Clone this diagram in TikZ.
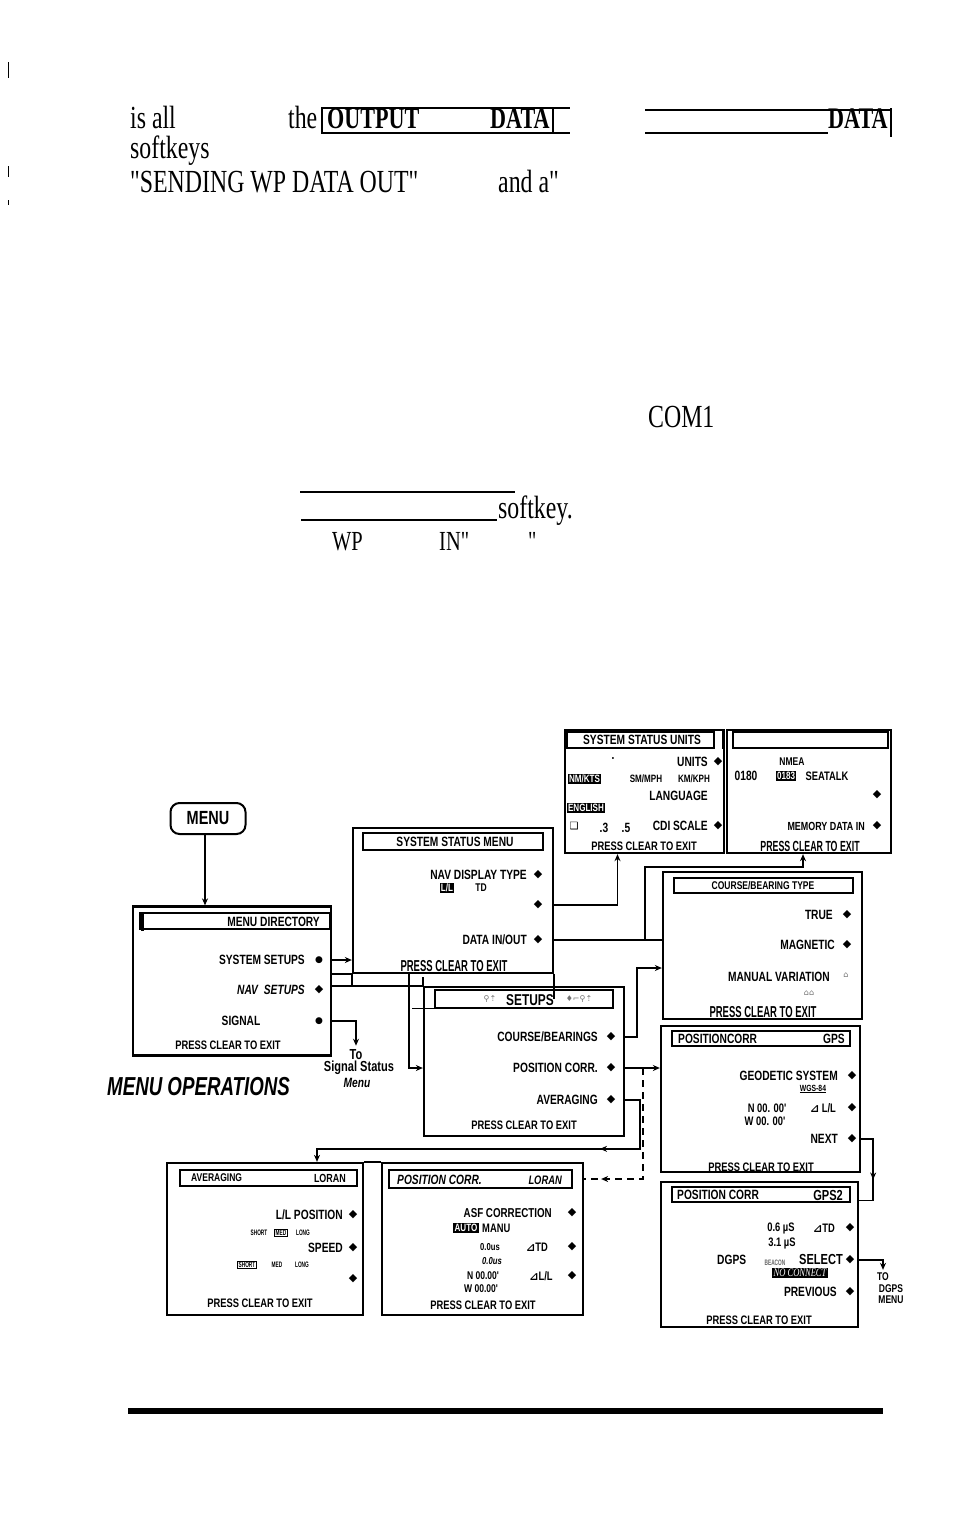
\documentclass[tikz,border=0pt]{standalone}
\usepackage{fontspec}
\setmainfont{Liberation Serif}
\newfontfamily\dfont[FakeStretch=0.76, Scale=1.12]{Liberation Sans}
\newfontfamily\dcond[FakeStretch=0.6, Scale=1.13]{Liberation Sans}
\newfontfamily\tfont[FakeStretch=0.74, Scale=1.15]{Liberation Serif}
\newfontfamily\opfont[FakeStretch=0.72]{Liberation Sans}
\newfontfamily\symf{DejaVu Sans}
\usetikzlibrary{arrows.meta,decorations.markings}
\newcommand\fs[1]{\fontsize{#1}{#1}\selectfont}
\begin{document}
\begin{tikzpicture}[x=1pt,y=-1pt,
  bx/.style n args={2}{draw, line width=2.3pt, inner sep=0pt, minimum width=#1, minimum height=#2},
  tb/.style n args={2}{draw, line width=1.2pt, inner sep=0pt, minimum width=#1, minimum height=#2},
  it/.style={inner sep=0pt, anchor=east, font=\dfont\bfseries\fs{12}},
  tx/.style={inner sep=0pt, font=\dfont\bfseries\fs{12}},
  sm/.style={inner sep=0pt, font=\dcond\bfseries\fs{7}},
  dm/.style={inner sep=0pt, font=\symf\fs{11}},
  dt/.style={inner sep=0pt, font=\symf\fs{9}},
  pr/.style={inner sep=0pt, font=\dfont\bfseries\fs{11}},
  bpr/.style={inner sep=0pt, font=\dcond\bfseries\fs{14}},
  inv/.style={fill=black, text=white, inner sep=1.2pt, font=\dfont\bfseries\fs{9.5}},
  grb/.style={inner sep=0pt, text=black!55, font=\symf\fs{8}},
  cn/.style={line width=1.7pt},
  arw/.style={-{Stealth[length=7pt,width=6pt]}},
  tp/.style={inner sep=0pt, anchor=base west, font=\tfont\fs{28}},
  tpb/.style={inner sep=0pt, anchor=base west, font=\tfont\bfseries\fs{26}},
  midarr/.style={postaction={decorate}, decoration={markings, mark=at position #1 with {\arrow{Stealth[length=7pt,width=6pt]}}}}
]
\useasboundingbox (0,0) rectangle (954,1519);
\fill[white] (0,0) rectangle (954,1519);

% ---------- page marks ----------
\draw[line width=1pt] (8,62) -- (8,78) (8,166) -- (8,177) (8,200) -- (8,205);

% ---------- text of the page ----------
\node[tp] (t1) at (130,128) {is all};
\node[tp] (t2) at (288,128) {the};
\node[tpb] (t3) at (327,128) {OUTPUT};
\node[tpb] (t4) at (490,128) {DATA};
\draw[line width=2pt] (322,108) -- (570,108) (322,133) -- (570,133)
  (322,107) -- (322,134) (553,107) -- (553,134);
\node[tpb] (t4b) at (828,128) {DATA};
\draw[line width=2pt] (645,110) -- (892,110) (645,133) -- (828,133) (891,108) -- (891,137);
\node[tp] (t5) at (130,158) {softkeys};
\node[tp] (t6) at (130,192) {"SENDING WP DATA OUT"};
\node[tp] (t7) at (498,192) {and a"};
\node[tp] (t8) at (648,427) {COM1};
\draw[line width=2pt] (300,492) -- (515,492) (301,520) -- (497,520);
\node[tp] (t9) at (498,518) {softkey.};
\node[tp, font=\tfont\fs{24}] (t10) at (332,550) {WP};
\node[tp, font=\tfont\fs{24}] (t11) at (439,550) {IN"};
\node[tp, font=\tfont\fs{24}] (t12) at (528,550) {"};

% ---------- MENU and MENU DIRECTORY ----------
\node[draw, line width=2pt, rounded corners=9pt, minimum width=75, minimum height=31,
      inner sep=0pt, font=\dfont\bfseries\fs{17}] (menu) at (208,818.5) {MENU};
\node[bx={198}{149}] (md) at (232,981) {};
\node[tb={190}{16}] (mdt) at (235,921) {};
\draw[line width=3pt] (142,912) -- (142,931);
\node[it] (mdtl) at (320,922) {MENU DIRECTORY};
\draw[cn, arw] ([xshift=-3pt]menu.south) -- ([xshift=-3pt]menu.south |- md.north);
\node[it] (mds) at (305,960) {SYSTEM SETUPS};
\node[dt] (mdsd) at (319,960) {●};
\node[it, font=\dfont\bfseries\itshape\fs{12}] (mdn) at (305,990) {NAV\;\,SETUPS};
\node[dm] (mdnd) at (319,990) {◆};
\node[tx] (mdg) at (241,1021) {SIGNAL};
\node[dt] (mdgd) at (319,1021) {●};
\node[pr] (mdp) at (228,1045) {PRESS CLEAR TO EXIT};
\node[tx, font=\dfont\bfseries\fs{13}] (sto) at (356,1055) {To};
\node[tx, font=\dfont\bfseries\fs{13}] (sst) at (359,1068) {Signal Status};
\node[tx, font=\dfont\bfseries\itshape\fs{12}] (smn) at (357,1083) {Menu};
\draw[cn, arw, shorten >=4pt] (md.east |- mdgd) -| (sto.north);
\node[inner sep=0pt, anchor=base west, font=\opfont\bfseries\itshape\fs{26}] (mop) at (107,1095) {MENU OPERATIONS};

% ---------- SYSTEM STATUS MENU ----------
\node[bx={200}{145}] (ssm) at (453,900.5) {};
\node[tb={180}{17}] (ssmt) at (453,841.5) {};
\node[tx] (ssmtl) at (455,842) {SYSTEM STATUS MENU};
\node[it] (ss1) at (527,875) {NAV DISPLAY TYPE};
\node[dm] (ss1d) at (538,875) {◆};
\node[inv] (ssll) at (447,888) {L/L};
\node[tx, font=\dfont\bfseries\fs{10}] (sstd) at (481,888) {TD};
\node[dm] (ss2d) at (538,905) {◆};
\node[it] (ss3) at (527,940) {DATA IN/OUT};
\node[dm] (ss3d) at (538,940) {◆};
\node[bpr] (ssp) at (454,966) {PRESS CLEAR TO EXIT};
\draw[cn, arw] (md.east |- mdsd) -- (ssm.west |- mdsd);

% ---------- SETUPS ----------
\node[bx={200}{149}] (set) at (524,1061.5) {};
\node[tb={178}{18}] (sett) at (524,999) {};
\draw[line width=1.2pt] (sett.south west) -- ++(-22,0);
\draw[line width=2.3pt] (set.north west) -- ++(0,-9);
\draw[line width=2.3pt] (ssm.south west) -- (md.east |- ssm.south);
\draw[line width=2.3pt] (ssm.south west) -- (ssm.west |- set.north);
\draw[line width=2.3pt] (ssm.south east) -- (ssm.east |- sett.center);
\draw[cn] (md.east |- set.north) -- (set.north west);
\node[tx, font=\dfont\bfseries\fs{14}] (settl) at (530,1000) {SETUPS};
\node[grb] (setg1) at (490,999) {⚲⇡};
\node[grb] (setg2) at (579,999) {♦⌐⚲⇡};
\node[it] (se1) at (598,1037) {COURSE/BEARINGS};
\node[dm] (se1d) at (611,1037) {◆};
\node[it] (se2) at (598,1068) {POSITION CORR.};
\node[dm] (se2d) at (611,1068) {◆};
\node[it] (se3) at (598,1100) {AVERAGING};
\node[dm] (se3d) at (611,1100) {◆};
\node[pr] (sep) at (524,1125) {PRESS CLEAR TO EXIT};
\draw[cn, arw] ([xshift=-14pt]set.west |- ssm.south) -- ([xshift=-14pt]set.west |- se2d) -- (set.west |- se2d);

% ---------- SYSTEM STATUS UNITS ----------
\node[bx={159}{123}] (uni) at (644.5,791.5) {};
\node[tb={147}{16}] (unit) at (640.5,740) {};
\draw[line width=1.2pt] ([xshift=8pt]unit.north east) -- ([xshift=8pt]unit.south east);
\node[tx] (unitl) at (642,740) {SYSTEM STATUS UNITS};
\node[tx] (undot) at (613,758) {.};
\node[it] (un1) at (708,762) {UNITS};
\node[dm] (un1d) at (718,762) {◆};
\node[inv] (unnm) at (584.5,779) {NM/KTS};
\node[tx, font=\dfont\bfseries\fs{9.5}] (unsm) at (646,779) {SM/MPH};
\node[tx, font=\dfont\bfseries\fs{9.5}] (unkm) at (694,779) {KM/KPH};
\node[it] (un2) at (708,796) {LANGUAGE};
\node[inv] (uneng) at (586,808) {ENGLISH};
\node[dt, font=\symf\fs{10}] (unbx) at (574,826) {❑};
\node[tx] (un03) at (604,828) {.3};
\node[tx] (un05) at (626,828) {.5};
\node[it] (un4) at (708,826) {CDI SCALE};
\node[dm] (un4d) at (718,826) {◆};
\node[pr] (unp) at (644,846) {PRESS CLEAR TO EXIT};

% ---------- DATA box ----------
\node[bx={164}{123}] (dat) at (809,791.5) {};
\node[tb={155}{16}] (datt) at (810.5,740) {};
\node[tx, font=\dfont\bfseries\fs{10}] (dnm) at (792,762) {NMEA};
\node[tx] (d0180) at (746,776) {0180};
\node[inv] (d0183) at (786,776) {0183};
\node[tx, font=\dfont\bfseries\fs{11}] (dsea) at (827,776) {SEATALK};
\node[dm] (dd1) at (877,795) {◆};
\node[it, font=\dfont\bfseries\fs{10.5}] (dmem) at (865,826) {MEMORY DATA IN};
\node[dm] (dmemd) at (877,826) {◆};
\node[bpr, font=\dcond\bfseries\fs{13}] (dp) at (810,846) {PRESS CLEAR TO EXIT};

% ---------- COURSE/BEARING TYPE ----------
\node[bx={199}{147}] (crs) at (762.5,945.5) {};
\node[tb={179}{15}] (crst) at (763.5,885.5) {};
\node[tx, font=\dfont\bfseries\fs{10}] (crstl) at (763,886) {COURSE/BEARING TYPE};
\node[it] (cr1) at (833,915) {TRUE};
\node[dm] (cr1d) at (847,915) {◆};
\node[it] (cr2) at (835,945) {MAGNETIC};
\node[dm] (cr2d) at (847,945) {◆};
\node[it] (cr3) at (830,977) {MANUAL VARIATION};
\node[grb] (cr3g) at (846,975) {⌂};
\node[grb] (cr4g) at (809,993) {⌂⌂};
\node[bpr] (crp) at (763,1012) {PRESS CLEAR TO EXIT};

% ---------- POSITION CORR GPS ----------
\node[bx={199}{146}] (gps) at (760.5,1099) {};
\node[tb={178}{15}] (gpst) at (761,1038.5) {};
\node[tx, anchor=west] (gpsl) at (678,1039) {POSITIONCORR};
\node[tx, anchor=east] (gpsr) at (845,1039) {GPS};
\node[it] (gp1) at (838,1076) {GEODETIC SYSTEM};
\node[dm] (gp1d) at (852,1076) {◆};
\node[tx, font=\dfont\bfseries\fs{8}] (gpw) at (813,1089) {\underline{WGS-84}};
\node[tx, font=\dfont\bfseries\fs{11}] (gpn) at (767,1108) {N 00. 00'};
\node[tx, font=\dfont\bfseries\fs{11}] (gpll) at (823,1108) {{\symf ⊿} L/L};
\node[dm] (gp2d) at (852,1108) {◆};
\node[tx, font=\dfont\bfseries\fs{11}] (gpw2) at (765,1121) {W 00. 00'};
\node[it] (gp3) at (838,1139) {NEXT};
\node[dm] (gp3d) at (852,1139) {◆};
\node[pr] (gpp) at (761,1167) {PRESS CLEAR TO EXIT};

% ---------- POSITION CORR GPS2 ----------
\node[bx={197}{145}] (gq) at (759.5,1254.5) {};
\node[tb={178}{15}] (gqt) at (761,1194.5) {};
\node[tx, anchor=west] (gql) at (677,1195) {POSITION CORR};
\node[tx, anchor=east, font=\dfont\bfseries\fs{13}] (gqr) at (843,1195) {GPS2};
\node[tx, font=\dfont\bfseries\fs{11}] (gq1) at (781,1228) {0.6 µS};
\node[tx, font=\dfont\bfseries\fs{11}] (gq1b) at (824,1228) {{\symf ⊿}TD};
\node[dm] (gq1d) at (850,1228) {◆};
\node[tx, font=\dfont\bfseries\fs{11}] (gq2) at (782,1243) {3.1 µS};
\node[tx, anchor=west] (gq3) at (717,1260) {DGPS};
\node[sm, text=black!60] (gq3g) at (775,1263) {BEACON};
\node[it, font=\dfont\bfseries\fs{13}] (gq3s) at (843,1259) {SELECT};
\node[dm] (gq3d) at (850,1260) {◆};
\node[inv, font=\tfont\itshape\fs{10}] (gqnc) at (800,1273) {NO CONNECT};
\node[it] (gq4) at (837,1292) {PREVIOUS};
\node[dm] (gq4d) at (850,1292) {◆};
\node[pr] (gqp) at (759,1320) {PRESS CLEAR TO EXIT};
\node[tx, font=\dfont\bfseries\fs{10}] (gqto) at (883,1277) {TO};
\node[tx, font=\dfont\bfseries\fs{10}] (gqdg) at (891,1289) {DGPS};
\node[tx, font=\dfont\bfseries\fs{10}] (gqmn) at (891,1300) {MENU};
\draw[cn, arw, shorten >=3pt] (gq.east |- gq3d) -| (gqto.north);

% ---------- AVERAGING LORAN ----------
\node[bx={196}{152}] (avg) at (265,1239) {};
\node[tb={177}{16}] (avgt) at (268.5,1178) {};
\node[tx, anchor=west, font=\dfont\bfseries\fs{10}] (avl) at (191,1178) {AVERAGING};
\node[tx, anchor=east, font=\dfont\bfseries\fs{10.5}] (avr) at (346,1178) {LORAN};
\node[it] (av1) at (343,1215) {L/L POSITION};
\node[dm] (av1d) at (353,1215) {◆};
\node[sm] (avs1) at (259,1233) {SHORT};
\node[sm, draw, line width=0.8pt, inner sep=1pt] (avm1) at (281,1233) {MED};
\node[sm] (avl1) at (303,1233) {LONG};
\node[it] (av2) at (343,1248) {SPEED};
\node[dm] (av2d) at (353,1248) {◆};
\node[sm, draw, line width=0.8pt, inner sep=1pt] (avs2) at (247,1265) {SHORT};
\node[sm] (avm2) at (277,1265) {MED};
\node[sm] (avl2) at (302,1265) {LONG};
\node[dm] (av3d) at (353,1279) {◆};
\node[pr] (avp) at (260,1303) {PRESS CLEAR TO EXIT};

% ---------- POSITION CORR LORAN ----------
\node[bx={201}{152}] (lor) at (482.5,1239) {};
\node[tb={183}{18}] (lort) at (480.5,1179) {};
\draw[line width=2.3pt] (avg.north east) -- (lor.north west);
\node[tx, anchor=west, font=\dfont\bfseries\itshape\fs{12}] (lol) at (397,1180) {POSITION CORR.};
\node[tx, anchor=east, font=\dfont\bfseries\itshape\fs{11}] (lor2) at (562,1180) {LORAN};
\node[it, font=\dfont\bfseries\fs{11.5}] (lo1) at (552,1213) {ASF CORRECTION};
\node[dm] (lo1d) at (572,1213) {◆};
\node[inv] (loau) at (466,1228) {AUTO};
\node[tx, anchor=west, font=\dfont\bfseries\fs{11}] (lomn) at (482,1228) {MANU};
\node[tx, font=\dfont\bfseries\fs{9}] (lo2) at (490,1247) {0.0us};
\node[tx, font=\dfont\bfseries\fs{11}] (lo2b) at (537,1247) {{\symf ⊿}TD};
\node[dm] (lo2d) at (572,1247) {◆};
\node[tx, font=\dfont\bfseries\itshape\fs{9}] (lo3) at (492,1261) {0.0us};
\node[tx, font=\dfont\bfseries\fs{10}] (lo4) at (483,1276) {N 00.00'};
\node[tx, font=\dfont\bfseries\fs{11}] (lo4b) at (541,1276) {{\symf ⊿}L/L};
\node[dm] (lo4d) at (572,1276) {◆};
\node[tx, font=\dfont\bfseries\fs{10}] (lo5) at (481,1289) {W 00.00'};
\node[pr] (lop) at (483,1305) {PRESS CLEAR TO EXIT};

% ---------- connectors ----------
\draw[cn, arw] (ssm.east |- ss2d) -| ([xshift=-27pt]uni.south);
\draw[cn, arw] (ssm.east |- ss3d) -| ([xshift=-17pt,yshift=4pt]crs.north west) -| ([xshift=-6pt]dat.south);
\draw[cn] ([xshift=-17pt]crs.west |- ss3d) -- (crs.west |- ss3d);
\draw[cn, arw] (set.east |- se1d) -- ([xshift=12pt]set.east |- se1d) |- ([yshift=-22.5pt]crs.west);
\draw[cn, arw] (set.east |- se2d) -- (gps.west |- se2d);
\draw[cn, arw, midarr=0.26] (set.east |- se3d) -- ([xshift=15pt]set.east |- se3d)
   |- ([xshift=52pt,yshift=13pt]avg.north) -- ([xshift=52pt]avg.north);
\draw[cn, dash pattern=on 7pt off 5pt, midarr=0.9] ([xshift=-17pt]gps.west |- se2d) |- (lor.east |- lort);
\draw[cn, midarr=0.6] (gps.east |- gp3d) -- ([xshift=12pt]gps.east |- gp3d) |- ([yshift=-6pt]gq.east |- gqt.center);

% ---------- bottom rule ----------
\draw[line width=6pt] (128,1411) -- (883,1411);
\end{tikzpicture}
\end{document}
